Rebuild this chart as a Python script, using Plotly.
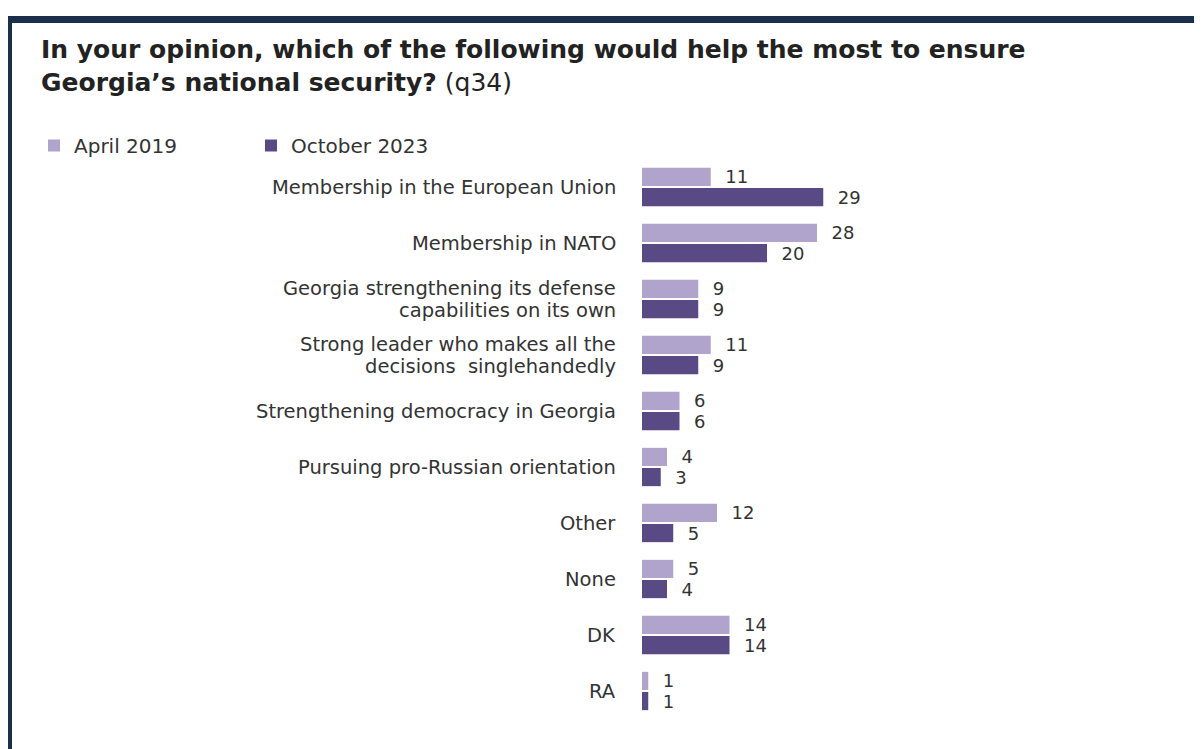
import plotly.graph_objects as go

categories = [
    "Membership in the European Union",
    "Membership in NATO",
    "Georgia strengthening its defense<br>capabilities on its own",
    "Strong leader who makes all the<br>decisions  singlehandedly",
    "Strengthening democracy in Georgia",
    "Pursuing pro-Russian orientation",
    "Other",
    "None",
    "DK",
    "RA",
]
april_2019 = [11, 28, 9, 11, 6, 4, 12, 5, 14, 1]
october_2023 = [29, 20, 9, 9, 6, 3, 5, 4, 14, 1]
series_names = ["April 2019", "October 2023"]
colors = ["#b0a3cc", "#594a86"]

# the page body has an 8px margin, so work in screen pixels minus that offset
OFF = 8
W, H = 1194, 741


def px(x):
    return (x - OFF) / W


def py(y):
    return 1 - (y - OFF) / H


fig = go.Figure()
for name, vals, col in zip(series_names, [april_2019, october_2023], colors):
    fig.add_trace(go.Bar(
        y=categories, x=vals, name=name, orientation="h",
        marker=dict(color=col, line=dict(width=0)),
        text=vals, texttemplate="\u00a0\u00a0%{x}", textposition="outside",
        constraintext="none",
        textfont=dict(family="DejaVu Sans", size=18, color="#333333"),
        cliponaxis=False, hoverinfo="skip",
    ))

fig.update_layout(
    width=W, height=H,
    margin=dict(l=0, r=0, t=0, b=0),
    paper_bgcolor="white", plot_bgcolor="white",
    barmode="group", bargap=0.28, bargroupgap=0.1,
    font=dict(family="DejaVu Sans", color="#333333"),
    xaxis=dict(domain=[px(642), 1.0], range=[0, 89.6], visible=False,
               showgrid=False, zeroline=False),
    yaxis=dict(domain=[py(719), py(159)], autorange="reversed",
               categoryorder="array", categoryarray=categories,
               showgrid=False, zeroline=False, showline=False, ticks="",
               showticklabels=False),
    legend=dict(orientation="h", x=px(34), y=py(126), xanchor="left", yanchor="top",
                font=dict(family="DejaVu Sans", size=20, color="#333333"),
                entrywidth=172, entrywidthmode="pixels", traceorder="normal",
                bgcolor="rgba(0,0,0,0)"),
    showlegend=True,
)

# category labels, placed on the y axis scale; multi-line ones set tightly
LINE = 22
for cat in categories:
    lines = cat.split("<br>")
    n = len(lines)
    for i, line in enumerate(lines):
        fig.add_annotation(
            xref="x", yref="y", x=0, y=cat, xanchor="right", yanchor="middle",
            xshift=-24, yshift=((n - 1) / 2 - i) * LINE, showarrow=False,
            text=line, font=dict(family="DejaVu Sans", size=19.5, color="#333333"),
        )

fig.add_annotation(
    xref="paper", yref="paper", x=px(39), y=py(33), xanchor="left", yanchor="top",
    align="left", showarrow=False,
    text="<b>In your opinion, which of the following would help the most to ensure</b><br>"
         "<b>Georgia\u2019s national security?</b> (q34)",
    font=dict(family="DejaVu Sans", size=25, color="#222222"),
)

# frame: top band and left line
fig.add_shape(type="rect", xref="paper", yref="paper",
              x0=px(8), x1=1.0, y0=py(23), y1=py(16),
              fillcolor="#1b2f4a", line=dict(width=0), layer="above")
fig.add_shape(type="rect", xref="paper", yref="paper",
              x0=px(8), x1=px(12), y0=0, y1=py(16),
              fillcolor="#1b2f4a", line=dict(width=0), layer="above")

fig.write_html("out.html")
